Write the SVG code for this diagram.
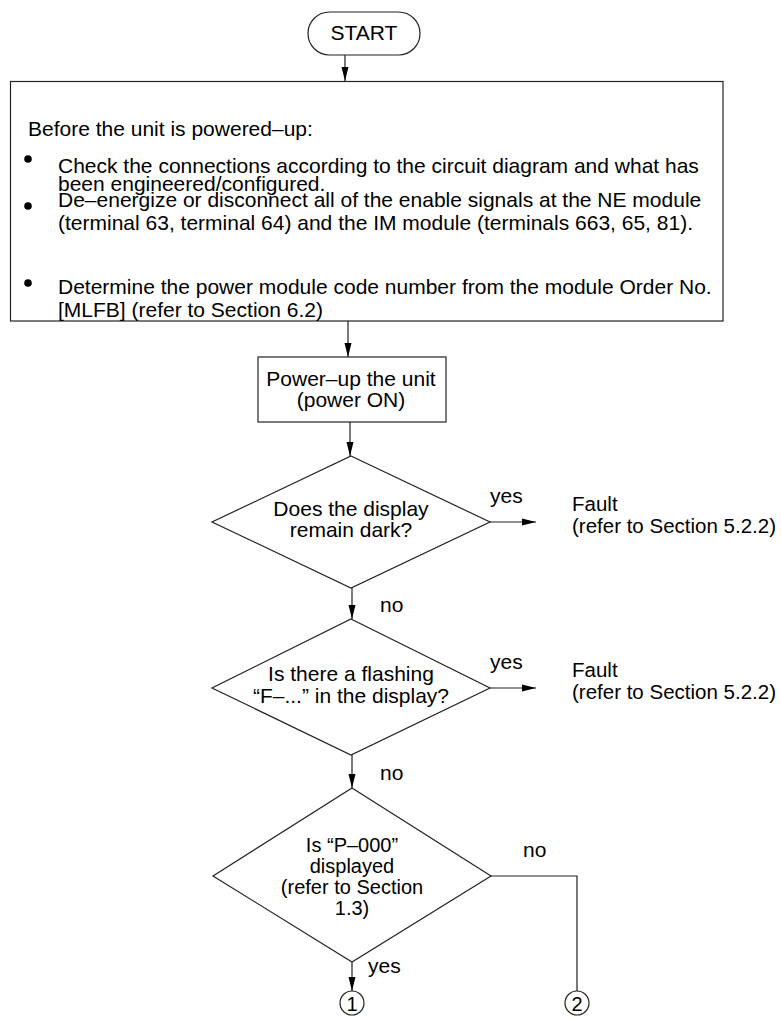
<svg xmlns="http://www.w3.org/2000/svg" width="781" height="1020" viewBox="0 0 781 1020">
<style>
text{font-family:"Liberation Sans",Arial,sans-serif;font-size:21px;fill:#000}
.c{text-anchor:middle}
.f{font-size:20.5px}
.s{font-size:20px}
.shape{fill:#fff;stroke:#222;stroke-width:1.2}
.ln{fill:none;stroke:#222;stroke-width:1.2}
.bul{fill:#000}
</style>
<defs>
<marker id="av" viewBox="0 0 14 8" refX="14" refY="4" markerWidth="14" markerHeight="8" markerUnits="userSpaceOnUse" orient="auto">
<path d="M0,0.5 L14,4 L0,7.5 z" fill="#000"/>
</marker>
</defs>
<rect width="781" height="1020" fill="#fff"/>
<g id="connectors">
<line class="ln" x1="345" y1="55" x2="345" y2="81" marker-end="url(#av)"/>
<line class="ln" x1="348" y1="321" x2="348" y2="357" marker-end="url(#av)"/>
<line class="ln" x1="350" y1="422" x2="350" y2="456" marker-end="url(#av)"/>
<line class="ln" x1="490" y1="522" x2="536" y2="522" marker-end="url(#av)"/>
<line class="ln" x1="352" y1="588" x2="352" y2="619" marker-end="url(#av)"/>
<line class="ln" x1="490" y1="688" x2="536" y2="688" marker-end="url(#av)"/>
<line class="ln" x1="352" y1="755" x2="352" y2="788" marker-end="url(#av)"/>
<polyline class="ln" points="491,876 577,876 577,991"/>
<line class="ln" x1="352" y1="962" x2="352" y2="991" marker-end="url(#av)"/>
<text x="490" y="503">yes</text>
<text x="380" y="612">no</text>
<text x="490" y="669">yes</text>
<text x="380" y="780">no</text>
<text x="523" y="857">no</text>
<text x="368" y="973">yes</text>
</g>
<g id="start">
<rect class="shape" x="308" y="12" width="112" height="43" rx="21.5"/>
<text class="c" x="364" y="40">START</text>
</g>
<g id="prep">
<rect class="shape" x="10.5" y="81.5" width="712.5" height="239.5"/>
<text x="28" y="136">Before the unit is powered–up:</text>
<circle class="bul" cx="28" cy="159" r="3.8"/>
<text x="58" y="173">Check the connections according to the circuit diagram and what has</text>
<text x="58" y="191">been engineered/configured.</text>
<circle class="bul" cx="28" cy="206" r="3.8"/>
<text x="58" y="207">De–energize or disconnect all of the enable signals at the NE module</text>
<text x="58" y="230">(terminal 63, terminal 64) and the IM module (terminals 663, 65, 81).</text>
<circle class="bul" cx="28" cy="283" r="3.8"/>
<text x="58" y="294">Determine the power module code number from the module Order No.</text>
<text x="58" y="317">[MLFB] (refer to Section 6.2)</text>
</g>
<g id="powerup">
<rect class="shape" x="258" y="357" width="188" height="65"/>
<text class="c" x="351" y="386">Power–up the unit</text>
<text class="c" x="351" y="407">(power ON)</text>
</g>
<g id="dark">
<polygon class="shape" points="351,456 490,522 351,588 212,522"/>
<text class="c" x="351" y="516">Does the display</text>
<text class="c" x="351" y="537">remain dark?</text>
</g>
<g id="fault1">
<text class="f" x="572" y="511">Fault</text>
<text class="f" x="572" y="533">(refer to Section 5.2.2)</text>
</g>
<g id="flash">
<polygon class="shape" points="351,619 490,688 351,755 212,688"/>
<text class="c" x="351" y="681">Is there a flashing</text>
<text class="c" x="351" y="703">“F–...” in the display?</text>
</g>
<g id="fault2">
<text class="f" x="572" y="677">Fault</text>
<text class="f" x="572" y="699">(refer to Section 5.2.2)</text>
</g>
<g id="p000">
<polygon class="shape" points="352,788 491,876 352,962 213,876"/>
<text class="c s" x="352" y="852">Is “P–000”</text>
<text class="c s" x="352" y="873">displayed</text>
<text class="c s" x="352" y="894">(refer to Section</text>
<text class="c s" x="352" y="915">1.3)</text>
</g>
<g id="c1">
<circle class="shape" cx="352" cy="1003" r="12"/>
<text class="c s" x="352" y="1011">1</text>
</g>
<g id="c2">
<circle class="shape" cx="577" cy="1003" r="12"/>
<text class="c s" x="577" y="1011">2</text>
</g>
</svg>
